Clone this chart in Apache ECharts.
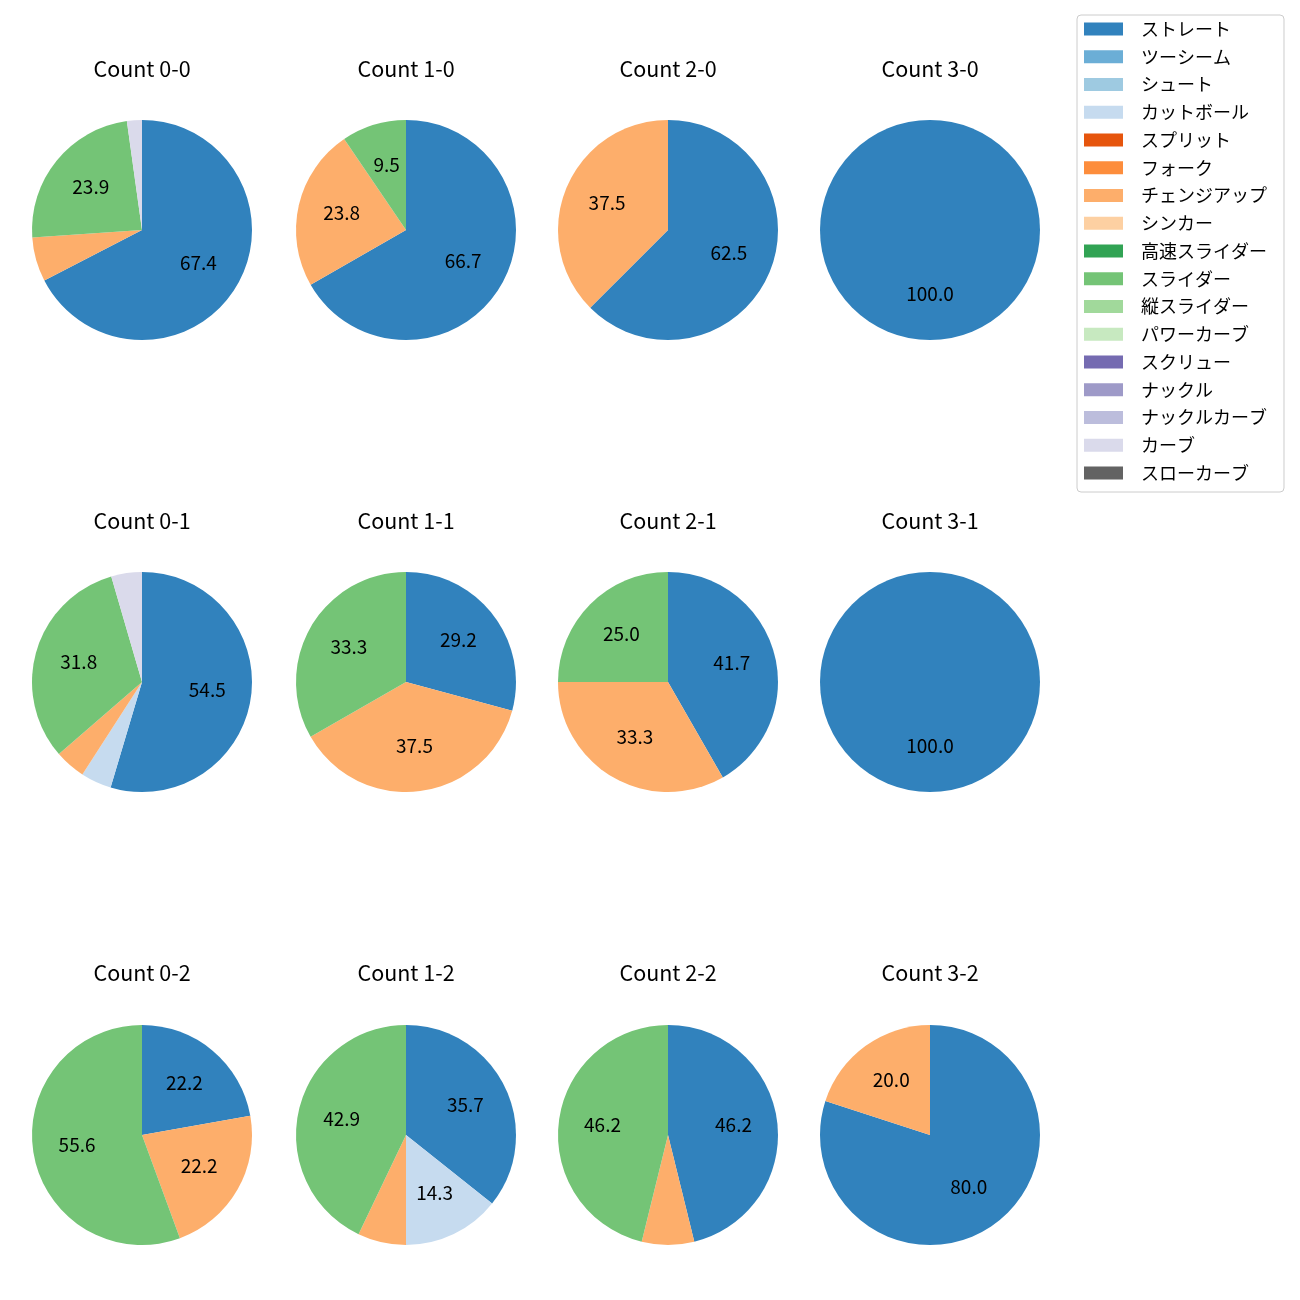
<!DOCTYPE html>
<html>
<head>
<meta charset="utf-8">
<script src="https://cdn.jsdelivr.net/npm/echarts@6/dist/echarts.min.js"></script>
<style>
html,body{margin:0;padding:0;background:#fff;}
#chart{width:1300px;height:1300px;}
</style>
</head>
<body>
<div id="chart"></div>
<script>
// ---- data ----
var categories = ['ストレート','ツーシーム','シュート','カットボール','スプリット','フォーク','チェンジアップ','シンカー','高速スライダー','スライダー','縦スライダー','パワーカーブ','スクリュー','ナックル','ナックルカーブ','カーブ','スローカーブ'];
var colors = ['#3182bd','#6baed6','#9ecae1','#c6dbef','#e6550d','#fd8d3c','#fdae6b','#fdd0a2','#31a354','#74c476','#a1d99b','#c7e9c0','#756bb1','#9e9ac8','#bcbddc','#dadaeb','#636363'];
var countTitles = ['Count 0-0','Count 1-0','Count 2-0','Count 3-0','Count 0-1','Count 1-1','Count 2-1','Count 3-1','Count 0-2','Count 1-2','Count 2-2','Count 3-2'];
// percentages per pitch type (order = categories)
var count00 = [67.4,0,0,0,0,0,6.5,0,0,23.9,0,0,0,0,0,2.2,0];
var count10 = [66.7,0,0,0,0,0,23.8,0,0,9.5,0,0,0,0,0,0,0];
var count20 = [62.5,0,0,0,0,0,37.5,0,0,0,0,0,0,0,0,0,0];
var count30 = [100.0,0,0,0,0,0,0,0,0,0,0,0,0,0,0,0,0];
var count01 = [54.5,0,0,4.5,0,0,4.5,0,0,31.8,0,0,0,0,0,4.5,0];
var count11 = [29.2,0,0,0,0,0,37.5,0,0,33.3,0,0,0,0,0,0,0];
var count21 = [41.7,0,0,0,0,0,33.3,0,0,25.0,0,0,0,0,0,0,0];
var count31 = [100.0,0,0,0,0,0,0,0,0,0,0,0,0,0,0,0,0];
var count02 = [22.2,0,0,0,0,0,22.2,0,0,55.6,0,0,0,0,0,0,0];
var count12 = [35.7,0,0,14.3,0,0,7.1,0,0,42.9,0,0,0,0,0,0,0];
var count22 = [46.2,0,0,0,0,0,7.7,0,0,46.2,0,0,0,0,0,0,0];
var count32 = [80.0,0,0,0,0,0,20.0,0,0,0,0,0,0,0,0,0,0];
var allCounts = [count00,count10,count20,count30,count01,count11,count21,count31,count02,count12,count22,count32];

// ---- layout ----
var colX = [142, 406, 668, 930];
var rowY = [230, 682, 1135];
var titleY = [69, 521, 973];
var R = 110;
var labelMin = 9;
var FONT = '"Noto Sans CJK JP", "Noto Sans", sans-serif';

var titles = [];
var series = [];

// legend provider (off-screen)
series.push({
  type: 'pie', silent: true, center: [-500, -500], radius: 1,
  label: {show: false}, labelLine: {show: false},
  data: categories.map(function (c, i) { return {name: c, value: 1, itemStyle: {color: colors[i]}}; })
});

allCounts.forEach(function (arr, k) {
  var cx = colX[k % 4], cy = rowY[Math.floor(k / 4)];
  var dataMain = [], dataLab = [];
  arr.forEach(function (v, i) {
    if (v > 0) {
      dataMain.push({name: categories[i], value: v, itemStyle: {color: colors[i]}});
      dataLab.push({name: categories[i], value: v, itemStyle: {color: 'rgba(0,0,0,0)'},
        label: {show: v >= labelMin}});
    }
  });
  titles.push({
    text: countTitles[k], left: cx, top: titleY[Math.floor(k / 4)] - 13, textAlign: 'center', padding: 0,
    textStyle: {fontFamily: FONT, fontSize: 21.5, fontWeight: 'normal', color: '#000', lineHeight: 26}
  });
  series.push({
    type: 'pie', silent: true, center: [cx, cy], radius: [0, R], startAngle: 90, clockwise: true,
    itemStyle: {borderWidth: 0}, label: {show: false}, labelLine: {show: false},
    emphasis: {disabled: true}, animation: false, data: dataMain
  });
  series.push({
    type: 'pie', silent: true, center: [cx, cy], radius: [R * 0.145, R], startAngle: 90, clockwise: true,
    itemStyle: {borderWidth: 0}, labelLine: {show: false}, avoidLabelOverlap: false,
    label: {show: true, position: 'inside', fontFamily: FONT, fontSize: 19, color: '#000', offset: [0, -2],
      formatter: function (p) { return p.value.toFixed(1); }},
    emphasis: {disabled: true}, animation: false, data: dataLab
  });
});

var chart = echarts.init(document.getElementById('chart'));
chart.setOption({
  animation: false,
  title: titles,
  legend: {
    orient: 'vertical', left: 1077, top: 15,
    padding: [5, 17, 10, 7],
    itemWidth: 39, itemHeight: 13, itemGap: 9.75,
    icon: 'rect',
    borderColor: '#cccccc', borderWidth: 1, borderRadius: 4, backgroundColor: '#fff',
    textStyle: {fontFamily: FONT, fontSize: 18, color: '#000', lineHeight: 18, padding: [0, 0, 0, 13]},
    data: categories,
    selectedMode: false
  },
  series: series
});
</script>
</body>
</html>
